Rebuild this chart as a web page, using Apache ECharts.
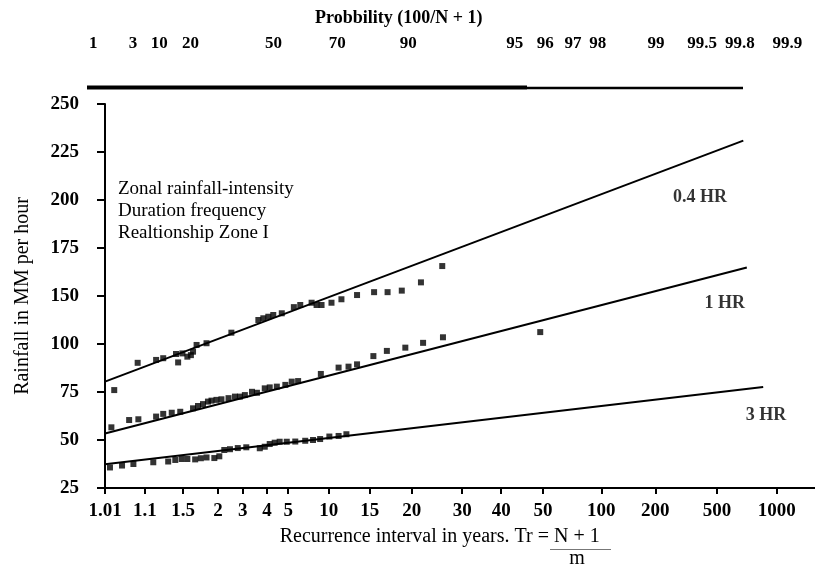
<!DOCTYPE html>
<html>
<head>
<meta charset="utf-8">
<title>Zonal rainfall-intensity duration frequency</title>
<script src="https://cdn.jsdelivr.net/npm/echarts@6/dist/echarts.min.js"></script>
<style>
html,body{margin:0;padding:0;background:#fff;}
#chart{width:815px;height:571px;}
</style>
</head>
<body>
<div id="chart"></div>
<script>
// 横轴是手绘的概率纸刻度, 用绘图单位(0-100)表示位置
var xTickPos = [0, 5.6, 11.0, 15.9, 19.4, 22.8, 25.8, 31.5, 37.3, 43.2, 50.3, 55.8, 61.7, 69.9, 77.5, 86.2, 94.6];
var xTickLabels = ['1.01','1.1','1.5','2','3','4','5','10','15','20','30','40','50','100','200','500','1000'];

// 上方概率刻度
var pTickPos = [-1.7, 3.9, 7.6, 12.0, 23.7, 32.7, 42.7, 57.7, 62.0, 65.9, 69.4, 77.6, 84.1, 89.4, 96.1];
var pTickLabels = ['1','3','10','20','50','70','90','95','96','97','98','99','99.5','99.8','99.9'];

// 纵轴: 9个等距刻度 (原图没有125), 数据按刻度位置 25..225 读取
var yTickLabels = ['25','50','75','100','150','175','200','225','250'];

// 0.4 HR
var x04 = [1.3, 4.6, 7.2, 8.2, 10.0, 10.3, 10.9, 11.6, 12.1, 12.4, 12.9, 14.3, 17.8, 21.6, 22.3, 23.0, 23.7, 24.9, 26.6, 27.5, 29.1, 29.8, 30.5, 31.9, 33.3, 35.5, 37.9, 39.8, 41.8, 44.5, 47.5];
var y04 = [76.0, 90.2, 91.7, 92.6, 94.8, 90.4, 95.1, 93.4, 94.2, 96.0, 99.5, 100.4, 105.9, 112.5, 113.4, 114.2, 115.1, 116.0, 119.2, 120.3, 121.5, 120.3, 120.3, 121.5, 123.3, 125.5, 127.0, 127.0, 127.8, 132.1, 140.6];

// 1 HR
var x1 = [0.9, 3.4, 4.7, 7.2, 8.2, 9.4, 10.6, 12.4, 13.1, 13.8, 14.5, 15.0, 15.7, 16.4, 17.4, 18.3, 19.0, 19.7, 20.7, 21.4, 22.5, 23.2, 24.2, 25.4, 26.3, 27.2, 30.4, 32.9, 34.3, 35.5, 37.8, 39.7, 42.3, 44.8, 47.6, 61.3];
var y1 = [56.6, 60.4, 60.8, 62.2, 63.6, 64.2, 64.7, 66.5, 67.7, 68.7, 70.0, 70.5, 70.9, 71.2, 71.8, 72.6, 72.6, 73.4, 75.1, 74.6, 76.9, 77.4, 77.8, 78.7, 80.4, 80.7, 84.4, 87.7, 88.2, 89.4, 93.7, 96.4, 98.1, 100.6, 103.5, 106.2];

// 3 HR
var x3 = [0.7, 2.4, 4.0, 6.8, 8.9, 9.9, 10.8, 11.6, 12.7, 13.5, 14.3, 15.4, 16.1, 16.8, 17.6, 18.7, 19.9, 21.8, 22.5, 23.2, 23.9, 24.6, 25.6, 26.8, 28.2, 29.3, 30.3, 31.6, 32.9, 34.0];
var y3 = [35.7, 36.7, 37.5, 38.4, 38.8, 39.6, 40.1, 40.1, 39.9, 40.5, 40.9, 40.6, 41.5, 44.8, 45.2, 45.8, 46.2, 45.7, 46.5, 47.9, 48.6, 49.1, 49.1, 49.2, 49.6, 50.0, 50.5, 51.8, 52.1, 53.0];

// 拟合直线两端
var fit04 = [[0, 80.4], [89.9, 205.9]];
var fit1 = [[0, 53.4], [90.4, 139.8]];
var fit3 = [[0, 37.4], [92.7, 77.6]];

var curveNames = ['0.4 HR', '1 HR', '3 HR'];
var curveLabelPos = [[83.8, 176.6], [87.3, 121.4], [93.1, 63.0]];

function zip(xs, ys){
    var out = [];
    for(var i = 0; i < xs.length; i++){
        out.push([xs[i], ys[i]]);
    }
    return out;
}
function lookup(pos, labels, v){
    for(var i = 0; i < pos.length; i++){
        if(Math.abs(pos[i] - v) < 1e-6) return labels[i];
    }
    return '';
}

var FONT = '"Liberation Serif", "Times New Roman", serif';

var myChart = echarts.init(document.getElementById('chart'));

var pointStyle = {
    type: 'scatter',
    symbol: 'rect',
    symbolSize: 6,
    itemStyle: { color: '#000' },
    silent: true
};
var lineStyle = {
    type: 'line',
    symbol: 'none',
    lineStyle: { color: '#000', width: 2 },
    silent: true
};

var labelData = [];
for(var i = 0; i < curveNames.length; i++){
    labelData.push({ name: curveNames[i], value: curveLabelPos[i] });
}

var option = {
    backgroundColor: '#fff',
    animation: false,
    title: {
        text: 'Probbility (100/N + 1)',
        left: 310,
        top: 4,
        textStyle: { fontFamily: FONT, fontSize: 18, fontWeight: 'bold', color: '#000' }
    },
    grid: [
        { left: 105, right: 0, top: 104, bottom: 83 },
        { left: 84, right: 0, top: 88, height: 1 }
    ],
    xAxis: [
        {
            type: 'value',
            gridIndex: 0,
            min: 0,
            max: 100,
            axisLine: { lineStyle: { color: '#000', width: 2 } },
            axisTick: { show: true, customValues: xTickPos, length: 6, lineStyle: { color: '#000', width: 2 } },
            axisLabel: {
                customValues: xTickPos,
                margin: 14,
                color: '#000',
                fontFamily: FONT,
                fontSize: 19,
                fontWeight: 'bold',
                formatter: function(v){ return lookup(xTickPos, xTickLabels, v); }
            },
            splitLine: { show: false }
        },
        {
            type: 'value',
            gridIndex: 1,
            position: 'top',
            min: -3,
            max: 100,
            axisLine: { show: false },
            axisTick: { show: false },
            axisLabel: {
                customValues: pTickPos,
                margin: 36,
                color: '#000',
                fontFamily: FONT,
                fontSize: 17,
                fontWeight: 'bold',
                formatter: function(v){ return lookup(pTickPos, pTickLabels, v); }
            },
            splitLine: { show: false }
        }
    ],
    yAxis: [
        {
            type: 'value',
            gridIndex: 0,
            min: 25,
            max: 225,
            interval: 25,
            name: 'Rainfall in MM per hour',
            nameLocation: 'middle',
            nameGap: 72,
            nameTextStyle: { fontFamily: FONT, fontSize: 20, color: '#000' },
            axisLine: { show: true, lineStyle: { color: '#000', width: 2 } },
            axisTick: { show: true, length: 8, lineStyle: { color: '#000', width: 2 } },
            axisLabel: {
                margin: 26,
                color: '#000',
                fontFamily: FONT,
                fontSize: 19,
                fontWeight: 'bold',
                formatter: function(v){ return yTickLabels[Math.round((v - 25) / 25)]; }
            },
            splitLine: { show: false }
        },
        { type: 'value', gridIndex: 1, show: false }
    ],
    graphic: [
        { type: 'line', shape: { x1: 87, y1: 87.5, x2: 527, y2: 87.5 }, style: { stroke: '#000', lineWidth: 4 } },
        { type: 'line', shape: { x1: 527, y1: 88, x2: 743, y2: 88 }, style: { stroke: '#000', lineWidth: 2.5 } },
        {
            type: 'text', x: 118, y: 178,
            style: {
                text: 'Zonal rainfall-intensity\nDuration frequency\nRealtionship Zone I',
                font: '19px ' + FONT, lineHeight: 22, fill: '#000'
            }
        },
        {
            type: 'text', x: 549, y: 537,
            style: { text: 'Recurrence interval in years. Tr =', font: '20px ' + FONT, fill: '#000', align: 'right', verticalAlign: 'middle' }
        },
        {
            type: 'text', x: 554, y: 537,
            style: { text: 'N + 1', font: '20px ' + FONT, fill: '#000', verticalAlign: 'middle' }
        },
        { type: 'line', shape: { x1: 550, y1: 549.5, x2: 611, y2: 549.5 }, style: { stroke: '#777', lineWidth: 1 } },
        {
            type: 'text', x: 577, y: 559,
            style: { text: 'm', font: '20px ' + FONT, fill: '#000', align: 'center', verticalAlign: 'middle' }
        }
    ],
    series: [
        echarts.util.extend({ name: '0.4 HR', data: zip(x04, y04) }, pointStyle),
        echarts.util.extend({ name: '1 HR', data: zip(x1, y1) }, pointStyle),
        echarts.util.extend({ name: '3 HR', data: zip(x3, y3) }, pointStyle),
        echarts.util.extend({ name: '0.4 HR fit', data: fit04 }, lineStyle),
        echarts.util.extend({ name: '1 HR fit', data: fit1 }, lineStyle),
        echarts.util.extend({ name: '3 HR fit', data: fit3 }, lineStyle),
        {
            name: 'curve labels',
            type: 'scatter',
            symbolSize: 0,
            silent: true,
            data: labelData,
            label: {
                show: true,
                position: 'inside',
                formatter: '{b}',
                color: '#000',
                fontFamily: FONT,
                fontSize: 18,
                fontWeight: 'bold'
            }
        }
    ]
};

myChart.setOption(option);
</script>
</body>
</html>
